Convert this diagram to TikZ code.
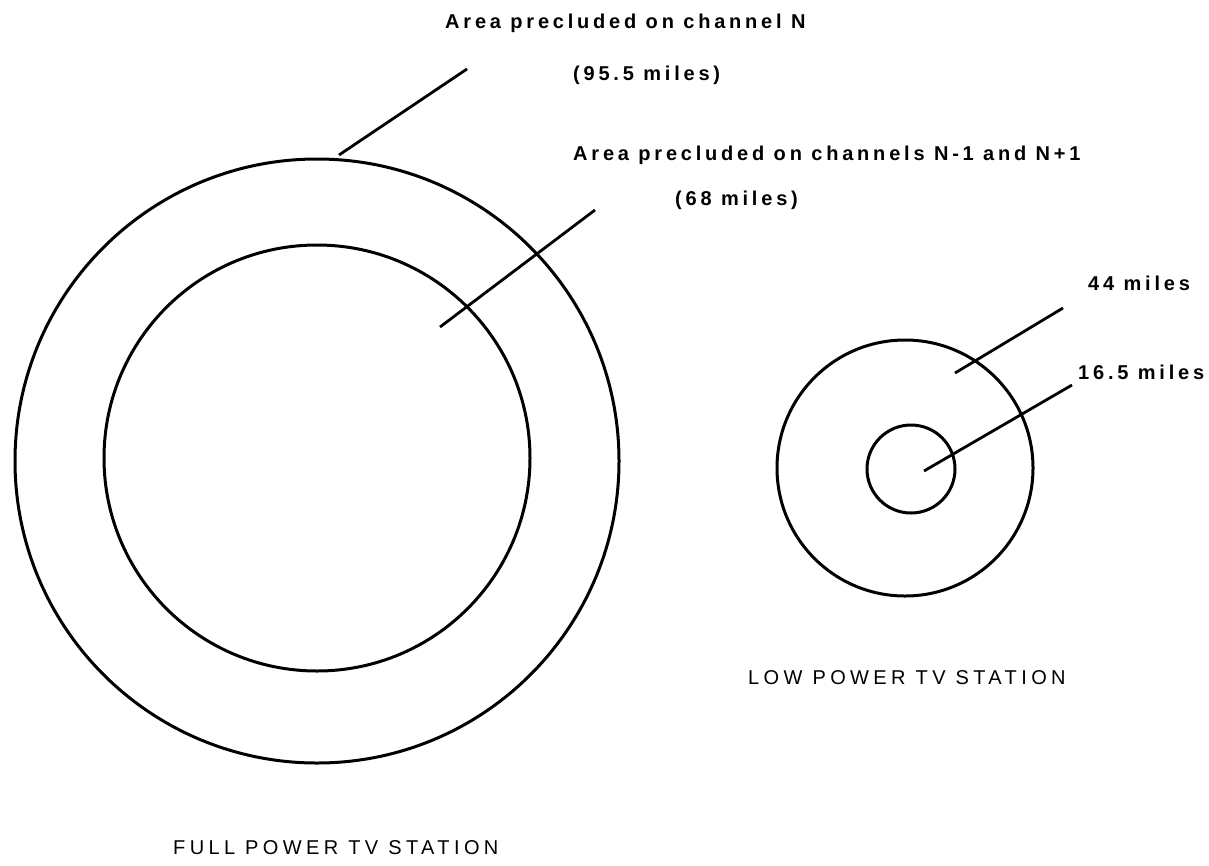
\documentclass[tikz,border=0pt]{standalone}
\usepackage{fontspec}
\setmainfont{Liberation Sans}
\newfontfamily\tagfont[LetterSpace=19]{Liberation Sans}
\newfontfamily\capfont[LetterSpace=22]{Liberation Sans}
\usepackage{tikz}
\usetikzlibrary{positioning,calc}

\tikzset{
  ring/.style={line width=3pt, black},
  leader/.style={line width=2.8pt, black},
  tag/.style={anchor=west, inner sep=0pt, font=\fontsize{20}{22}\tagfont\bfseries},
  caption/.style={anchor=west, inner sep=0pt, font=\fontsize{20}{22}\capfont}
}

\begin{document}
\begin{tikzpicture}[x=1pt, y=-1pt]
    \useasboundingbox (0,0) rectangle (1209,865);

    % full power station
    \draw[ring] (317,461) circle[radius=302pt];
    \draw[ring] (317,458) circle[radius=213pt];
    % low power station
    \draw[ring] (905,468) circle[radius=128pt];
    \draw[ring] (911,469) circle[radius=44pt];

    \node[tag] (chN) at (445,23) {Area precluded on channel N};
    \node[tag] (chNmi) at (573,75) {(95.5 miles)};
    \node[tag] (adj) at (573,155) {Area precluded on channels N-1 and N+1};
    \node[tag] (adjmi) at (675,200) {(68 miles)};
    \node[tag] (fortyfour) at (1088,283) {44 miles};
    \node[tag] (sixteen) at (1078,372) {16.5 miles};
    \node[caption] (lptv) at (748,678) {LOW POWER TV STATION};
    \node[caption] (fptv) at (173,848) {FULL POWER TV STATION};

    \coordinate (chNa) at (467,69);   \coordinate (chNb) at (339,155);
    \coordinate (adja) at (595,210);  \coordinate (adjb) at (440,327);
    \coordinate (ffa) at (1063,308);  \coordinate (ffb) at (955,373);
    \coordinate (sxa) at (1072,385);  \coordinate (sxb) at (924,471);

    \draw[leader] (chNa) -- (chNb);
    \draw[leader] (adja) -- (adjb);
    \draw[leader] (ffa) -- (ffb);
    \draw[leader] (sxa) -- (sxb);
\end{tikzpicture}
\end{document}
